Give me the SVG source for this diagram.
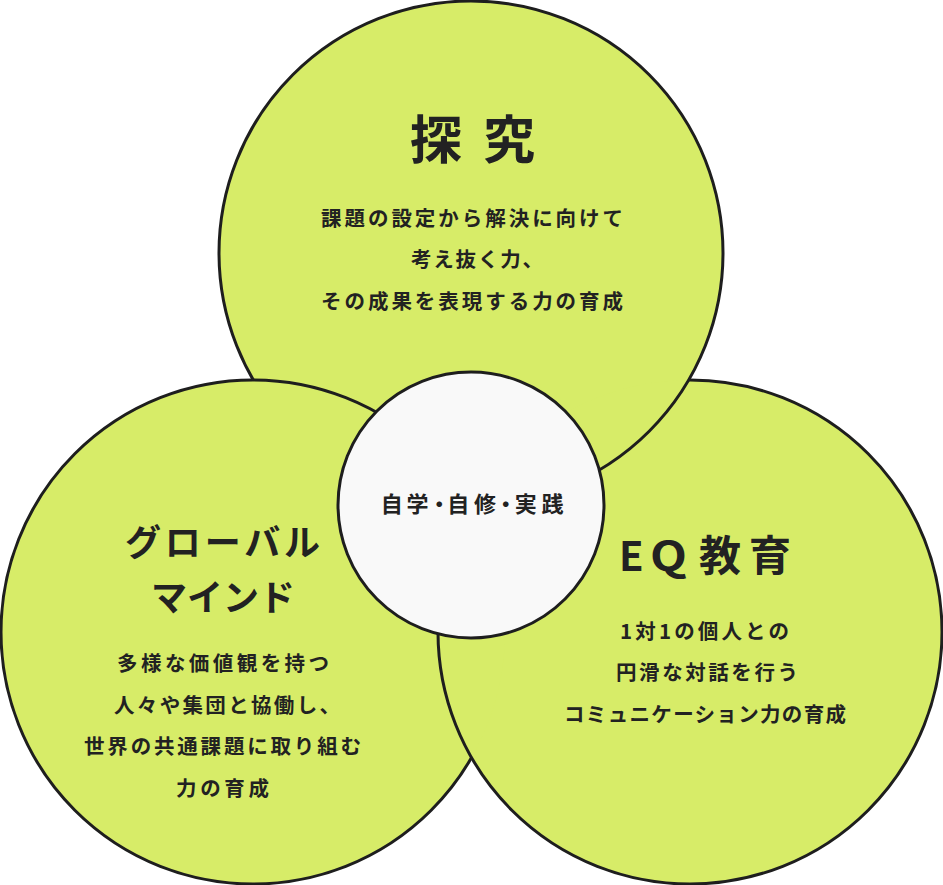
<svg xmlns="http://www.w3.org/2000/svg" width="943" height="885" viewBox="0 0 943 885">
<style>
.fill{fill:#d7ec68;stroke:none}
.ring{fill:none;stroke:#1e1e1e;stroke-width:3}
text{font-family:"Noto Sans CJK JP","Noto Sans CJK SC",sans-serif;fill:#222}
.title{font-weight:700}
.body{font-size:20.5px;font-weight:700}
</style>
<defs>
<mask id="exL" maskUnits="userSpaceOnUse" x="0" y="0" width="943" height="885">
<rect x="0" y="0" width="943" height="885" fill="#fff"/>
<circle cx="253" cy="632" r="252" fill="#000"/>
</mask>
<mask id="exT" maskUnits="userSpaceOnUse" x="0" y="0" width="943" height="885">
<rect x="0" y="0" width="943" height="885" fill="#fff"/>
<circle cx="471" cy="253" r="252" fill="#000"/>
</mask>
<mask id="exR" maskUnits="userSpaceOnUse" x="0" y="0" width="943" height="885">
<rect x="0" y="0" width="943" height="885" fill="#fff"/>
<circle cx="690" cy="632" r="252" fill="#000"/>
</mask>
</defs>
<rect width="943" height="885" fill="#fff"/>
<g id="fills">
<circle class="fill" cx="471" cy="253" r="252"/>
<circle class="fill" cx="690" cy="632" r="252"/>
<circle class="fill" cx="253" cy="632" r="252"/>
</g>
<g id="node-tankyu">
<circle class="ring" cx="471" cy="253" r="252" mask="url(#exL)"/>
<text class="title" font-size="52" y="159" x="410 483">探究</text>
<text class="body" x="321" y="226" textLength="302" lengthAdjust="spacing">課題の設定から解決に向けて</text>
<text class="body" x="411" y="267" textLength="132" lengthAdjust="spacing">考え抜く力、</text>
<text class="body" x="321" y="308.5" textLength="302" lengthAdjust="spacing">その成果を表現する力の育成</text>
</g>
<g id="node-eq">
<circle class="ring" cx="690" cy="632" r="252" mask="url(#exT)"/>
<text class="title" y="571"><tspan font-size="40" x="619">E</tspan></text>
<text class="title" font-size="40" text-anchor="middle" transform="translate(668.5 571) scale(1.2 1)">Q</text>
<text class="title" y="571"><tspan font-size="42" x="699">教</tspan><tspan font-size="42" x="749">育</tspan></text>
<text class="body" x="620" y="638.5" textLength="169" lengthAdjust="spacing">1対1の個人との</text>
<text class="body" x="616" y="680" textLength="182" lengthAdjust="spacing">円滑な対話を行う</text>
<text class="body" x="564" y="721.5" textLength="282" lengthAdjust="spacing">コミュニケーション力の育成</text>
</g>
<g id="node-global">
<circle class="ring" cx="253" cy="632" r="252" mask="url(#exR)"/>
<text class="title" font-size="36" x="125" y="556" textLength="195" lengthAdjust="spacing">グローバル</text>
<text class="title" font-size="36" x="151" y="611" textLength="144" lengthAdjust="spacing">マインド</text>
<text class="body" x="117" y="671" textLength="212" lengthAdjust="spacing">多様な価値観を持つ</text>
<text class="body" x="114" y="712.5" textLength="226" lengthAdjust="spacing">人々や集団と協働し、</text>
<text class="body" x="84" y="754" textLength="277" lengthAdjust="spacing">世界の共通課題に取り組む</text>
<text class="body" x="176" y="795.5" textLength="93" lengthAdjust="spacing">力の育成</text>
</g>
<g id="node-center">
<circle cx="471" cy="505" r="133" fill="#f9f9f9" stroke="#1e1e1e" stroke-width="3"/>
<text class="title" font-size="22" y="512" x="380.7 406.5 428.2 447.3 474 494.8 514.8 541.5">自学・自修・実践</text>
</g>
</svg>
